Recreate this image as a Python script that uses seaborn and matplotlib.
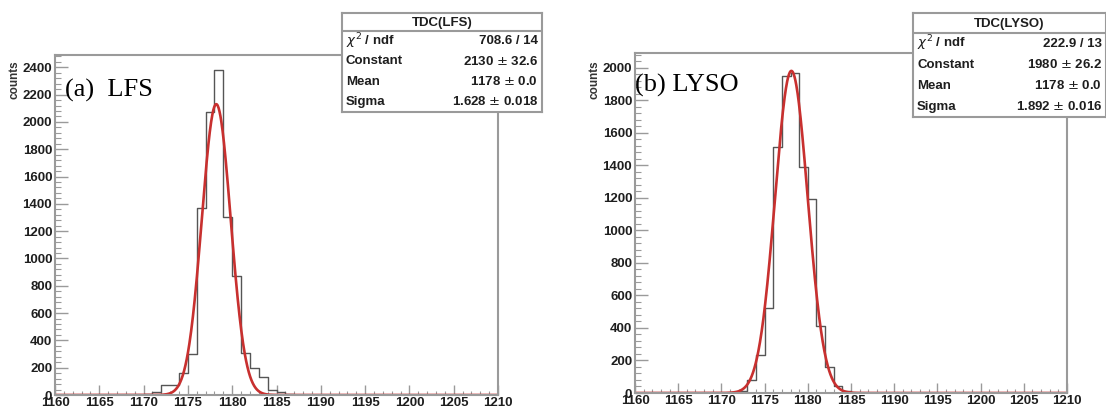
import numpy as np
import pandas as pd
import matplotlib
matplotlib.use("Agg")
import matplotlib.pyplot as plt
from matplotlib.ticker import MultipleLocator
import seaborn as sns

sns.set_theme(style="white")
plt.rcParams['font.family'] = ['Liberation Sans', 'DejaVu Sans']

# ---------------- data ----------------
lfs_bins = [1170, 1171, 1172, 1173, 1174, 1175, 1176, 1177, 1178, 1179,
            1180, 1181, 1182, 1183, 1184, 1185, 1186]
lfs_counts = [10, 25, 70, 75, 160, 300, 1370, 2070, 2380, 1300,
              870, 310, 195, 130, 40, 20, 10]

lyso_bins = [1171, 1172, 1173, 1174, 1175, 1176, 1177, 1178, 1179,
             1180, 1181, 1182, 1183, 1184]
lyso_counts = [5, 15, 80, 235, 520, 1510, 1950, 1970, 1390,
               1190, 410, 160, 45, 10]

lfs_fit = dict(constant=2130, mean=1178.2, sigma=1.628)
lyso_fit = dict(constant=1980, mean=1178.1, sigma=1.892)

lfs_stats = [("TDC(LFS)", ""), (r"$\chi^2$ / ndf", "708.6 / 14"),
             ("Constant", "2130 $\\pm$ 32.6"), ("Mean", "1178 $\\pm$ 0.0"),
             ("Sigma", "1.628 $\\pm$ 0.018")]
lyso_stats = [("TDC(LYSO)", ""), (r"$\chi^2$ / ndf", "222.9 / 13"),
              ("Constant", "1980 $\\pm$ 26.2"), ("Mean", "1178 $\\pm$ 0.0"),
              ("Sigma", "1.892 $\\pm$ 0.016")]

x_range = (1160, 1210)
panel_labels = ["(a)  LFS", "(b) LYSO"]
ylims = [2490, 2090]

W, H = 1106, 415
fig = plt.figure(figsize=(W / 100, H / 100), dpi=100)

axes_px = [(55, 498, 55, 395), (635, 1067, 53, 393)]
box_px = [(342, 542, 13, 112, 31), (913, 1106, 13, 117, 33)]
counts_px = [14, 594]
label_pos = [(0.023, 0.897), (0.0, 0.906)]

datasets = [(lfs_bins, lfs_counts, lfs_fit, lfs_stats),
            (lyso_bins, lyso_counts, lyso_fit, lyso_stats)]

frame_col = "#9a9a9a"
txt_col = "#1e1e1e"

for i, ((bins, counts, fit, stats), (l, r, t, b)) in enumerate(zip(datasets, axes_px)):
    ax = fig.add_axes([l / W, 1 - b / H, (r - l) / W, (b - t) / H])
    df = pd.DataFrame({"x": np.array(bins, dtype=float) + 0.5,
                       "w": np.array(counts, dtype=float)})
    sns.histplot(data=df, x="x", weights="w", binwidth=1, binrange=x_range,
                 element="step", fill=False, color="#555555", linewidth=1.0, ax=ax)
    xs = np.linspace(x_range[0], x_range[1], 1000)
    ys = fit["constant"] * np.exp(-0.5 * ((xs - fit["mean"]) / fit["sigma"]) ** 2)
    sns.lineplot(x=xs, y=ys, color="#c8302f", linewidth=1.9, ax=ax)
    ax.set_xlim(*x_range)
    ax.set_ylim(0, ylims[i])
    ax.set_xlabel("")
    ax.set_ylabel("")
    ax.xaxis.set_major_locator(MultipleLocator(5))
    ax.xaxis.set_minor_locator(MultipleLocator(1))
    ax.yaxis.set_major_locator(MultipleLocator(200))
    ax.yaxis.set_minor_locator(MultipleLocator(40))
    ax.tick_params(axis="y", which="major", direction="in", length=9, width=1,
                   color=frame_col, labelsize=9.5, pad=2, left=True)
    ax.tick_params(axis="y", which="minor", direction="in", length=4.5, width=0.8,
                   color=frame_col, left=True)
    ax.tick_params(axis="x", which="major", direction="in", length=7, width=1,
                   color=frame_col, labelsize=9.5, pad=1.5, bottom=True)
    ax.tick_params(axis="x", which="minor", direction="in", length=3, width=0.8,
                   color=frame_col, bottom=True)
    for lab in ax.get_xticklabels() + ax.get_yticklabels():
        lab.set_fontweight("bold")
        lab.set_color(txt_col)
    for s in ax.spines.values():
        s.set_color(frame_col)
        s.set_linewidth(1.5)
    ax.text(label_pos[i][0], label_pos[i][1], panel_labels[i], transform=ax.transAxes,
            family="Liberation Serif", fontsize=19, color="black",
            va="center", ha="left")
    # y title
    fig.text(counts_px[i] / W, 1 - 60 / H, "counts", rotation=90,
             fontsize=8.5, fontweight="bold", color="#333333",
             ha="center", va="top")
    # stats box
    bl, br, bt, bb, bsep = box_px[i]
    bax = fig.add_axes([bl / W, 1 - bb / H, (br - bl) / W, (bb - bt) / H])
    bax.set_xlim(0, br - bl)
    bax.set_ylim(bb, bt)
    bax.set_xticks([])
    bax.set_yticks([])
    bax.set_facecolor("white")
    for s in bax.spines.values():
        s.set_color(frame_col)
        s.set_linewidth(1.5)
    bax.axhline(bsep, color=frame_col, linewidth=1.5)
    bax.text((br - bl) / 2, (bt + bsep) / 2 + 1, stats[0][0], ha="center", va="center",
             fontsize=9.5, fontweight="bold", color=txt_col)
    n = len(stats) - 1
    row_h = (bb - bsep) / n
    for k, (name, val) in enumerate(stats[1:]):
        yy = bsep + row_h * (k + 0.5)
        bax.text(4, yy, name, ha="left", va="center", fontsize=9.5,
                 fontweight="bold", color=txt_col)
        bax.text(br - bl - 4, yy, val, ha="right", va="center", fontsize=9.5,
                 fontweight="bold", color=txt_col)

fig.savefig("out.png", dpi=100, facecolor="white")
